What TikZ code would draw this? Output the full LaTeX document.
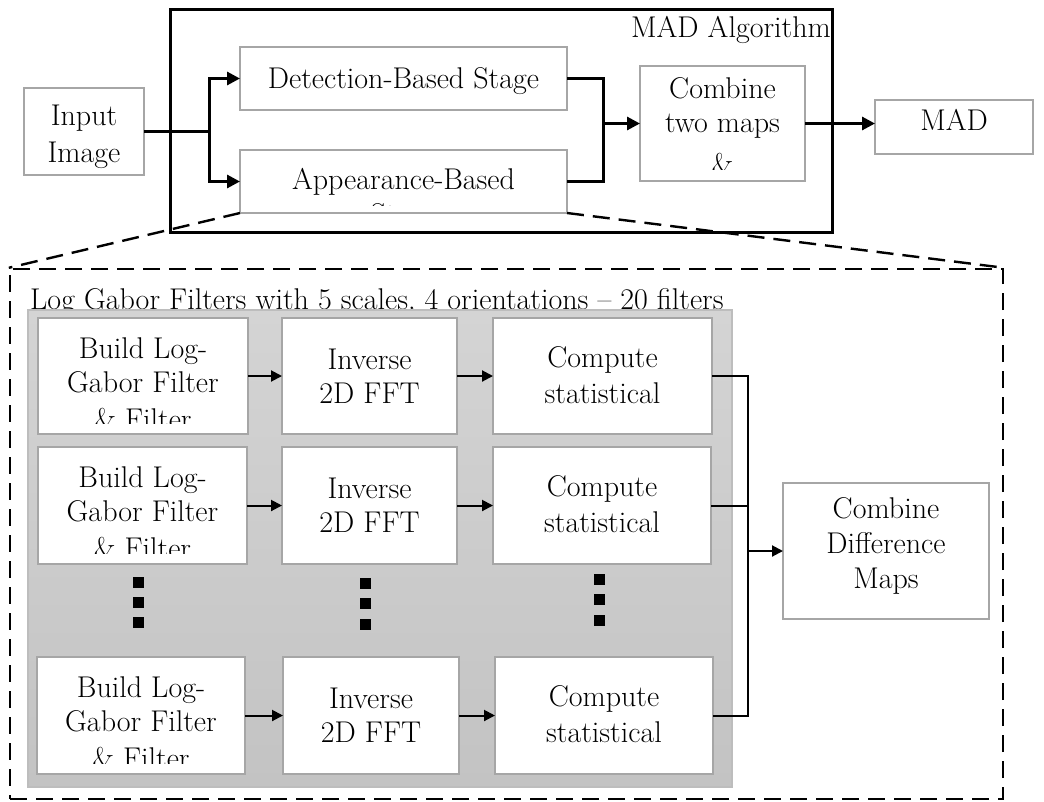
\documentclass[tikz,border=0pt]{standalone}
\usepackage{fontspec}
\usetikzlibrary{arrows.meta}
\definecolor{boxgrey}{HTML}{A6A6A6}
\definecolor{paneltop}{HTML}{D4D4D4}
\definecolor{panelbottom}{HTML}{C3C3C3}
\definecolor{panelrim}{HTML}{BDBDBD}

% box from corner (x1,y1) to corner (x2,y2), picture units are pixels, y downwards
\newcommand\mybox[6][]{%
  \node[box,#1,minimum width={(#4-#2)*1pt},minimum height={(#5-#3)*1pt}]
    (#6) at ({(#2+#4)/2},{(#3+#5)/2}) {};}
% text of a box: last baseline #3 below the top, cut #2 above the bottom
\newcommand\boxtext[5]{%
  \begin{scope}
    \clip (#1.north west) rectangle ([yshift=#2pt]#1.south east);
    \node[txt,anchor=base,#4] (#1-t) at ([yshift=-#3pt]#1.north) {#5};
  \end{scope}}

\begin{document}
\begin{tikzpicture}[x=1pt,y=-1pt,
  box/.style={draw=boxgrey,line width=2.2pt,fill=white,inner sep=0pt,outer sep=0pt},
  txt/.style={align=center,inner sep=0pt,font=\fontsize{30}{35}\selectfont},
  thickline/.style={line width=3pt},
  bigarrow/.style={thickline,-{Triangle[length=13pt,width=13pt]}},
  thinline/.style={line width=2pt},
  smallarrow/.style={thinline,-{Triangle[length=11pt,width=11pt]}},
  dashline/.style={line width=2.4pt,dash pattern=on 17pt off 9pt}]
\useasboundingbox (0,0) rectangle (1044,801);

% ---- overall algorithm ----
\node[draw,line width=3pt,minimum width=662pt,minimum height=223pt,inner sep=0pt]
  (alg) at (501,120.5) {};
\node[txt,anchor=base east] (algtitle) at (831,37) {MAD Algorithm};

\mybox{24}{88}{144}{175}{in}
\mybox{240}{47}{567}{110}{det}
\mybox{240}{150}{567}{213}{app}
\mybox{640}{66}{805}{181}{comb}
\mybox{875}{100}{1033}{154}{mad}

\boxtext{in}{0}{74}{font=\fontsize{30}{37}\selectfont}{Input\\Image}
\boxtext{det}{0}{41}{}{Detection-Based Stage}
\boxtext{app}{8}{74}{}{Appearance-Based\\Stage}
\boxtext{comb}{12}{108}{font=\fontsize{30}{34}\selectfont}{Combine\\two maps\\[8pt]\&}
\boxtext{mad}{0}{30}{}{MAD}

\coordinate (split) at (209,131.5);
\coordinate (merge) at (603,123.5);
\draw[thickline] (in.east) -- (split);
\draw[bigarrow] (split) |- (det.west);
\draw[bigarrow] (split) |- (app.west);
\draw[thickline] (det.east) -| (merge) |- (app.east);
\draw[bigarrow] (merge) -- (comb.west);
\draw[bigarrow] (comb.east) -- (comb.east -| mad.west);

% ---- detail of the appearance-based stage ----
\node[draw,dashline,minimum width=993pt,minimum height=530pt,inner sep=0pt]
  (zoom) at (506.5,534) {};
\draw[dashline] (app.south west) -- (zoom.north west);
\draw[dashline] (app.south east) -- (zoom.north east);

\node[txt,anchor=base west] (head) at (30,309)
  {Log Gabor Filters with 5 scales, 4 orientations -- 20 filters};

\node[draw=panelrim,line width=1.5pt,top color=paneltop,bottom color=panelbottom,
  minimum width=704pt,minimum height=477pt,inner sep=0pt] (panel) at (380,548.5) {};

% rows of filter boxes
\mybox{38}{318}{248}{434}{b1}
\mybox{282}{318}{457}{434}{i1}
\mybox{493}{318}{712}{434}{c1}
\mybox{38}{447}{247}{564}{b2}
\mybox{282}{447}{457}{564}{i2}
\mybox{493}{447}{711}{564}{c2}
\mybox{37}{657}{245}{774}{b3}
\mybox{283}{657}{459}{774}{i3}
\mybox{495}{657}{713}{774}{c3}

\foreach \r in {1,2,3}{
  \boxtext{b\r}{11}{111}{font=\fontsize{30}{34}\selectfont}{Build Log-\\Gabor Filter\\[3pt]\& Filter}
  \boxtext{i\r}{0}{85}{font=\fontsize{30}{34}\selectfont}{Inverse\\2D FFT}
  \boxtext{c\r}{0}{85}{font=\fontsize{30}{36}\selectfont}{Compute\\statistical}
  \draw[smallarrow] (b\r.east) -- (i\r.west);
  \draw[smallarrow] (i\r.east) -- (c\r.west);
}

% elided rows
\foreach \x/\y in {138/582,138/602,138/622,365/583,365/603,365/624,599/579,599/599,599/620}
  \fill (\x-5.5,\y-5.5) rectangle ++(11,11);

\mybox{783}{483}{989}{619}{cd}
\boxtext{cd}{0}{105}{}{Combine\\Difference\\Maps}

\coordinate (gather) at (748,551);
\draw[thinline] (c1.east) -- (c1.east -| gather) -- (c3.east -| gather) -- (c3.east);
\draw[thinline] (c2.east) -- (c2.east -| gather);
\draw[smallarrow] (gather) -- (cd.west);
\end{tikzpicture}
\end{document}
